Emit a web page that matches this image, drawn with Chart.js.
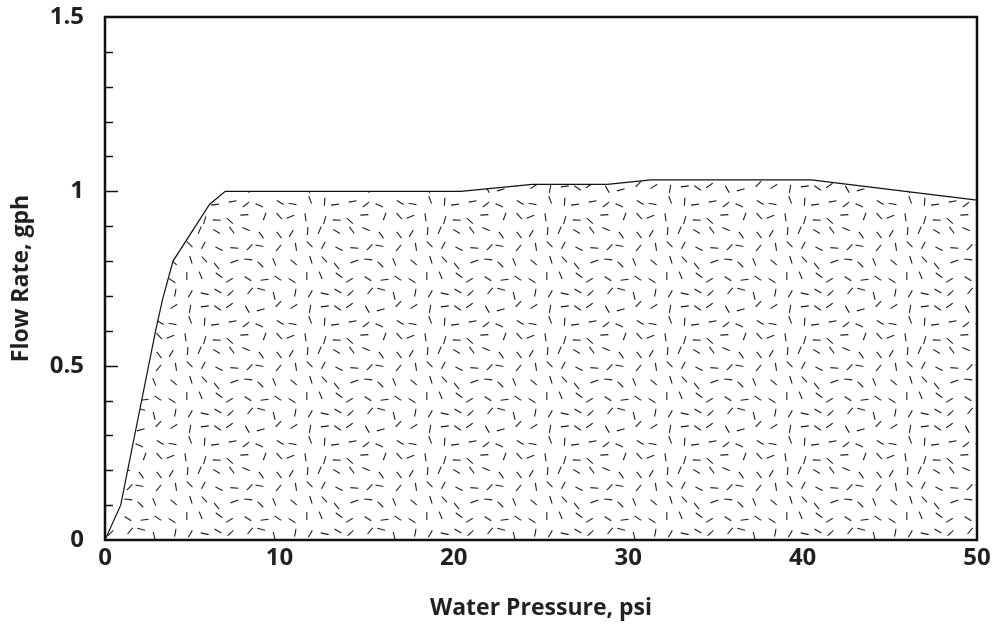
<!DOCTYPE html>
<html>
<head>
<meta charset="utf-8">
<script src="https://cdn.jsdelivr.net/npm/chart.js@4/dist/chart.umd.min.js"></script>
<style>
html,body{margin:0;padding:0;background:#fff;}
#wrap{width:992px;height:625px;position:relative;}
</style>
</head>
<body>
<div id="wrap"><canvas id="c" width="992" height="625"></canvas></div>
<script>
// Data
const pressure = [0, 0.9, 2.9, 3.3, 3.9, 6.0, 6.9, 20.4, 24.5, 28.8, 31.3, 40.5, 50];
const flow     = [0, 0.10, 0.60, 0.69, 0.80, 0.963, 1.0, 1.0, 1.02, 1.02, 1.033, 1.033, 0.975];
const yTickLabels = [0, 0.5, 1, 1.5];
const xTickLabels = [0, 10, 20, 30, 40, 50];

// Speckle texture (deterministic)
function makePattern(){
  const size = 120, cell = 15;
  const pc = document.createElement('canvas');
  pc.width = size; pc.height = size;
  const g = pc.getContext('2d');
  let s = 98765;
  const rnd = () => { s = (s * 1103515245 + 12345) & 0x7fffffff; return s / 0x7fffffff; };
  g.strokeStyle = '#1e1e1e';
  g.lineWidth = 1.1;
  g.lineCap = 'butt';
  const n = size / cell;
  for (let i = 0; i < n; i++) {
    for (let j = 0; j < n; j++) {
      const cx = i * cell + cell / 2 + (rnd() - 0.5) * 7;
      const cy = j * cell + cell / 2 + (rnd() - 0.5) * 7;
      const a = rnd() * Math.PI;
      const L = 4;
      for (const ox of [-size, 0, size]) for (const oy of [-size, 0, size]) {
        g.beginPath();
        g.moveTo(cx + ox - Math.cos(a) * L, cy + oy - Math.sin(a) * L);
        g.lineTo(cx + ox + Math.cos(a) * L, cy + oy + Math.sin(a) * L);
        g.stroke();
      }
    }
  }
  return g.createPattern(pc, 'repeat');
}

const frame = {
  id: 'frame',
  afterDatasetsDraw(chart){
    const {ctx, chartArea:a, scales} = chart;
    const y = scales.y;
    ctx.save();
    ctx.strokeStyle = '#111';
    ctx.lineWidth = 1.5;
    for (let v = 1; v < 15; v++) {
      const val = v / 10;
      const py = Math.round(y.getPixelForValue(val)) + 0.5;
      const len = (v % 5 === 0) ? 13 : 8;
      ctx.beginPath();
      ctx.moveTo(a.left, py);
      ctx.lineTo(a.left + len, py);
      ctx.stroke();
    }
    ctx.lineWidth = 2.5;
    ctx.strokeRect(a.left, a.top, a.right - a.left, a.bottom - a.top);
    ctx.restore();
  }
};

const pts = pressure.map((x, i) => ({x, y: flow[i]}));
const font = {family: "'Open Sans', sans-serif", weight: 'bold'};

new Chart(document.getElementById('c'), {
  type: 'line',
  data: {
    datasets: [{
      data: pts,
      borderColor: '#111',
      borderWidth: 1.2,
      pointRadius: 0,
      tension: 0,
      fill: 'origin',
      backgroundColor: makePattern()
    }]
  },
  options: {
    responsive: false,
    animation: false,
    devicePixelRatio: 1,
    layout: {autoPadding: false, padding: {left: 0, right: 15, top: 17, bottom: 0}},
    plugins: {legend: {display: false}, tooltip: {enabled: false}},
    scales: {
      x: {
        type: 'linear', min: 0, max: 50,
        afterFit(s){ s.height = 85; s.paddingLeft = 0; s.paddingRight = 0; },
        grid: {display: false, drawTicks: false},
        border: {display: false},
        ticks: {
          stepSize: 10, padding: 4, color: '#231f20',
          font: {...font, size: 24},
          callback: v => xTickLabels.includes(v) ? String(v) : null
        },
        title: {display: true, text: 'Water Pressure, psi', color: '#231f20',
          font: {...font, size: 23}, padding: {top: 0, bottom: 3}}
      },
      y: {
        type: 'linear', min: 0, max: 1.5,
        afterFit(s){ s.width = 105; s.paddingTop = 0; s.paddingBottom = 0; },
        grid: {display: false, drawTicks: false},
        border: {display: false},
        ticks: {
          stepSize: 0.5, padding: 21, color: '#231f20',
          font: {...font, size: 24},
          callback: v => yTickLabels.includes(v) ? String(v) : null
        },
        title: {display: true, text: 'Flow Rate, gph', color: '#231f20',
          font: {...font, size: 23}, padding: {top: 8, bottom: 0}}
      }
    }
  },
  plugins: [frame]
});
</script>
</body>
</html>
